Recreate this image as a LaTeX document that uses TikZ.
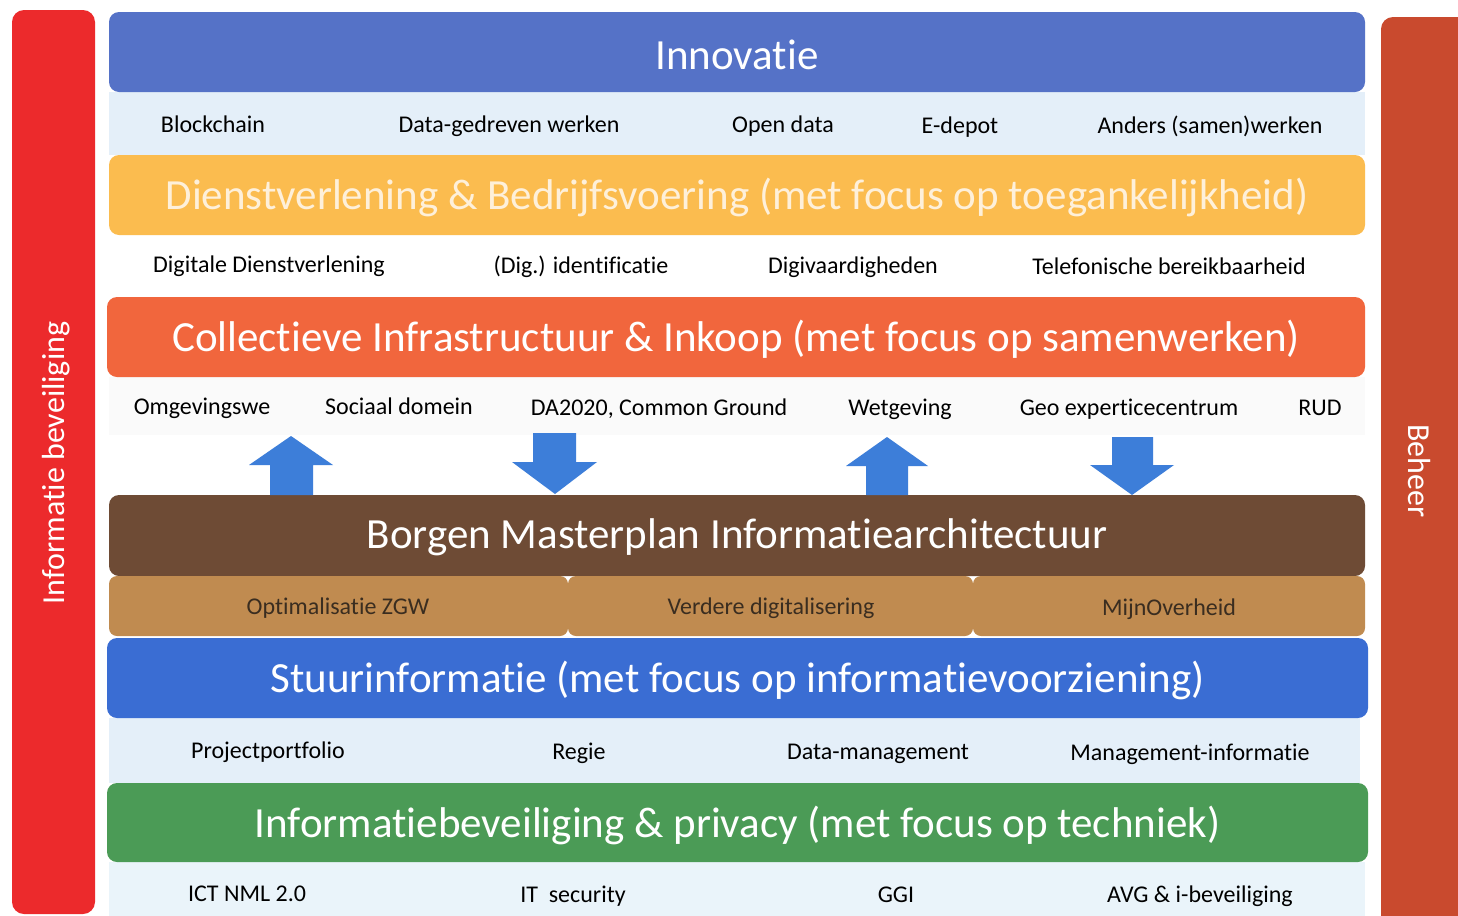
\documentclass[tikz,border=0pt]{standalone}
\usepackage{fontspec}
\setmainfont[Ligatures=NoCommon]{Carlito}
\definecolor{innovblue}{HTML}{5572C7}
\definecolor{lightrow}{HTML}{E4EFF9}
\definecolor{lightrowb}{HTML}{EAF4FA}
\definecolor{faintrow}{HTML}{FAFAFA}
\definecolor{orangeband}{HTML}{FBBC4F}
\definecolor{orangetext}{HTML}{FEF0DA}
\definecolor{coral}{HTML}{F1663D}
\definecolor{brownband}{HTML}{6E4B35}
\definecolor{tanband}{HTML}{C08B50}
\definecolor{tantext}{HTML}{3A2D20}
\definecolor{stuurblue}{HTML}{3A6DD3}
\definecolor{greenband}{HTML}{4B9B56}
\definecolor{leftred}{HTML}{EC2A2C}
\definecolor{rightred}{HTML}{C94A2E}
\definecolor{arrowblue}{HTML}{3D7ED9}
\tikzset{
  band/.style={rounded corners=5pt, inner sep=0pt, minimum height=40pt},
  hdr/.style={inner sep=0pt, text=white, font=\fontsize{21.5}{24}\selectfont},
  rowbox/.style={inner sep=0pt, draw=none},
  lbl/.style={inner sep=0pt, anchor=base, font=\fontsize{12}{14}\selectfont, text=black},
  tanlbl/.style={inner sep=0pt, anchor=base, font=\fontsize{12}{14}\selectfont, text=tantext},
  sidebar/.style={rounded corners=6pt, inner sep=0pt},
  sidetext/.style={text=white, font=\fontsize{16}{19}\selectfont, inner sep=0pt},
  blockarrow/.style={fill=arrowblue, draw=none},
}
\begin{document}
\begin{tikzpicture}[x=0.5pt,y=-0.5pt]
\useasboundingbox (0,0) rectangle (1458,916);
\clip (0,0) rectangle (1458,916);
\fill[white] (0,0) rectangle (1458,916);

% side bars
\node[sidebar, fill=leftred, minimum width=41.5pt, minimum height=452pt] (leftbar) at (53.5,462) {};
\node[sidetext, rotate=90] (lefttext) at (56,463) {Informatie beveiliging};
\node[sidebar, fill=rightred, minimum width=50pt, minimum height=470pt] (rightbar) at (1431,487) {};
\node[sidetext, rotate=-90] (righttext) at (1419,471) {Beheer};

% light rows
\node[rowbox, fill=lightrow, minimum width=628pt, minimum height=31.5pt] (row1) at (737,123.5) {};
\node[rowbox, fill=faintrow, minimum width=628pt, minimum height=29pt] (row3) at (737,406) {};
\node[rowbox, fill=lightrow, minimum width=625.5pt, minimum height=32.5pt] (row4) at (734.5,750.5) {};
\node[rowbox, fill=lightrowb, minimum width=628pt, minimum height=27pt] (row5) at (737,889) {};

% bands
\node[band, fill=innovblue, minimum width=628pt] (innov) at (737,52) {};
\node[band, fill=orangeband, minimum width=628pt] (dienst) at (737,195) {};
\node[band, fill=coral, minimum width=629pt] (collect) at (736,337) {};
\node[band, fill=brownband, minimum width=628pt, minimum height=40.5pt] (borgen) at (737,535.5) {};
\node[band, fill=stuurblue, minimum width=630.5pt] (stuur) at (737.5,678) {};
\node[band, fill=greenband, minimum width=630.5pt, minimum height=39.5pt] (green) at (737.5,822.5) {};

\node[hdr] (innovtxt) at ([yshift=-1.2pt]innov.center) {Innovatie};
\node[hdr, text=orangetext] (diensttxt) at ([yshift=-1pt]dienst.center) {Dienstverlening \& Bedrijfsvoering (met focus op toegankelijkheid)};
\node[hdr] (collecttxt) at ([yshift=-1.2pt]collect.center) {Collectieve Infrastructuur \& Inkoop (met focus op samenwerken)};
\node[hdr] (borgentxt) at ([yshift=-1pt]borgen.center) {Borgen Masterplan Informatiearchitectuur};
\node[hdr] (stuurtxt) at ([yshift=-1.2pt]stuur.center) {Stuurinformatie (met focus op informatievoorziening)};
\node[hdr] (greentxt) at ([yshift=-1.5pt]green.center) {Informatiebeveiliging \& privacy (met focus op techniek)};

% tan segments
\node[rowbox, fill=tanband, rounded corners=4pt, minimum width=229.5pt, minimum height=30pt] (tan1) at (338.5,606) {};
\node[rowbox, fill=tanband, rounded corners=4pt, minimum width=202.5pt, minimum height=30pt] (tan2) at (770.5,606) {};
\node[rowbox, fill=tanband, rounded corners=4pt, minimum width=196pt, minimum height=30pt] (tan3) at (1169,606) {};
\node[tanlbl] (t1) at (338,614) {Optimalisatie ZGW};
\node[tanlbl] (t2) at (771,614) {Verdere digitalisering};
\node[tanlbl] (t3) at (1169,615) {MijnOverheid};

% row 1 labels
\node[lbl] (r1a) at (213,132) {Blockchain};
\node[lbl] (r1b) at (509,132) {Data-gedreven werken};
\node[lbl] (r1c) at (783,132) {Open data};
\node[lbl] (r1d) at (960,133) {E-depot};
\node[lbl] (r1e) at (1210,133) {Anders (samen)werken};
% row 2 labels
\node[lbl] (r2a) at (269,272) {Digitale Dienstverlening};
\node[lbl] (r2b) at (581,273) {(Dig.) identificatie};
\node[lbl] (r2c) at (853,273) {Digivaardigheden};
\node[lbl] (r2d) at (1169,274) {Telefonische bereikbaarheid};
% row 3 labels
\node[lbl] (r3a) at (202,414) {Omgevingswe};
\node[lbl] (r3b) at (399,414) {Sociaal domein};
\node[lbl] (r3c) at (659,415) {DA2020, Common Ground};
\node[lbl] (r3d) at (900,415) {Wetgeving};
\node[lbl] (r3e) at (1129,415) {Geo experticecentrum};
\node[lbl] (r3f) at (1320,415) {RUD};
% row 4 labels
\node[lbl] (r4a) at (268,758) {Projectportfolio};
\node[lbl] (r4b) at (579,759) {Regie};
\node[lbl] (r4c) at (878,759) {Data-management};
\node[lbl] (r4d) at (1190,760) {Management-informatie};
% row 5 labels
\node[lbl] (r5a) at (247,901) {ICT NML 2.0};
\node[lbl] (r5b) at (573,902) {IT\ \ security};
\node[lbl] (r5c) at (896,902) {GGI};
\node[lbl] (r5d) at (1200,902) {AVG \& i-beveiliging};

% block arrows
\fill[blockarrow] (291,436) -- (333,465) -- (313,465) -- (313,495) -- (270,495) -- (270,465) -- (249,465) -- cycle;
\fill[blockarrow] (555,494) -- (597,462) -- (576,462) -- (576,433) -- (533,433) -- (533,462) -- (512,462) -- cycle;
\fill[blockarrow] (887,437) -- (928,466) -- (908,466) -- (908,495) -- (866,495) -- (866,466) -- (846,466) -- cycle;
\fill[blockarrow] (1132,495) -- (1174,465) -- (1153,465) -- (1153,437) -- (1112,437) -- (1112,465) -- (1090,465) -- cycle;
\end{tikzpicture}
\end{document}
